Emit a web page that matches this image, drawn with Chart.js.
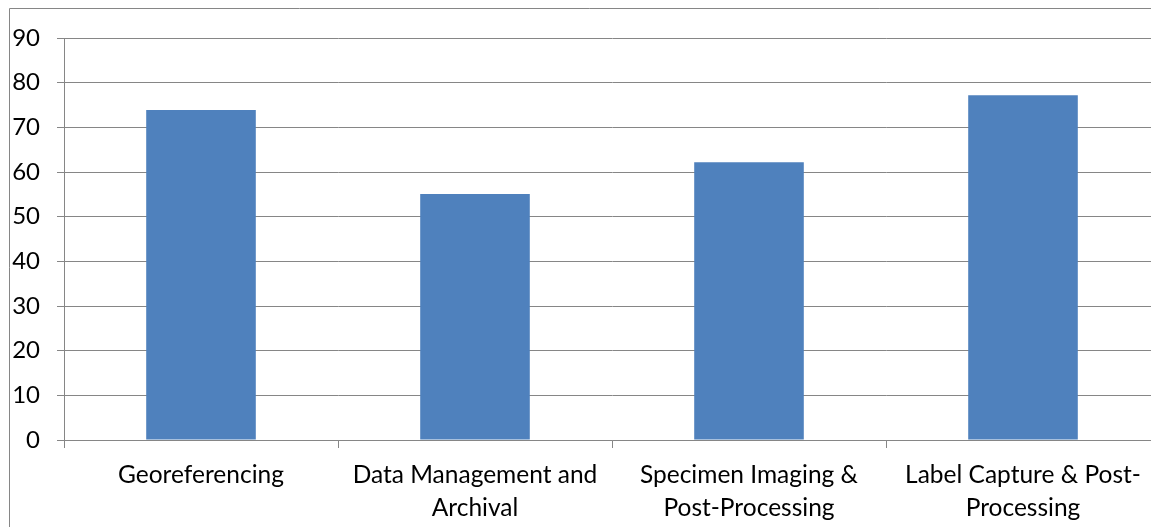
<!DOCTYPE html>
<html>
<head>
<meta charset="utf-8">
<script src="https://cdn.jsdelivr.net/npm/chart.js@4/dist/chart.umd.min.js"></script>
<style>
  html, body { margin: 0; padding: 0; background: #fff; overflow: hidden; }
  #wrap { position: absolute; left: 0; top: 0; width: 1151px; height: 527px; overflow: hidden; }
  #chart-tareas { position: absolute; left: 0; top: 0; }
</style>
</head>
<body>
<div id="wrap"><canvas id="chart-tareas" width="1170" height="527"></canvas></div>
<script>
// datos del grafico
var categorias = [
    ["Georeferencing"],
    ["Data Management and", "Archival"],
    ["Specimen Imaging &", "Post-Processing"],
    ["Label Capture & Post-", "Processing"]
]
var valores = [73.9, 55.1, 62.2, 77.2]
var eje_y = { min: 0, max: 90, paso: 10 }

var COLORES = {
    "barra": "#4F81BD",
    "linea": "#868686",
    "texto": "#000000",
}

var FUENTE = "Lato, 'Liberation Sans', sans-serif"

// marco gris exterior (como el de excel)
var marco = {
    id: 'marco',
    beforeDraw: function(c){
        var ctx = c.ctx
        ctx.save()
        ctx.strokeStyle = COLORES["linea"]
        ctx.lineWidth = 1
        ctx.beginPath()
        ctx.moveTo(9.5, c.height)
        ctx.lineTo(9.5, 8.5)
        ctx.lineTo(c.width, 8.5)
        ctx.stroke()
        ctx.restore()
    }
}

var chartBar = new Chart(document.getElementById("chart-tareas"), {
    type: 'bar',
    data: {
        labels: categorias,
        datasets: [{
            data: valores,
            backgroundColor: COLORES["barra"],
            borderWidth: 0,
            barPercentage: 0.4,
            categoryPercentage: 1,
        }],
    },
    options: {
        responsive: false,
        animation: false,
        layout: { padding: { top: 38, right: 10, bottom: 0, left: 1 } },
        plugins: {
            legend: { display: false },
            tooltip: { enabled: false },
        },
        scales: {
            x: {
                offset: true,
                grid: {
                    offset: true,
                    drawOnChartArea: false,
                    drawTicks: true,
                    tickLength: 8,
                    color: COLORES["linea"],
                },
                border: { display: true, color: COLORES["linea"] },
                ticks: {
                    color: COLORES["texto"],
                    padding: 11,
                    maxRotation: 0,
                    autoSkip: false,
                    font: { family: FUENTE, size: 24.5, lineHeight: 33 / 24.5 },
                },
                afterFit: function(s){ s.height = 87 },
            },
            y: {
                min: eje_y.min,
                max: eje_y.max,
                grid: {
                    color: COLORES["linea"],
                    tickLength: 7,
                },
                border: { display: true, color: COLORES["linea"] },
                ticks: {
                    stepSize: eje_y.paso,
                    color: COLORES["texto"],
                    padding: 17,
                    font: { family: FUENTE, size: 24 },
                },
                afterFit: function(s){ s.width = 63 },
            },
        },
    },
    plugins: [marco],
})
</script>
</body>
</html>
